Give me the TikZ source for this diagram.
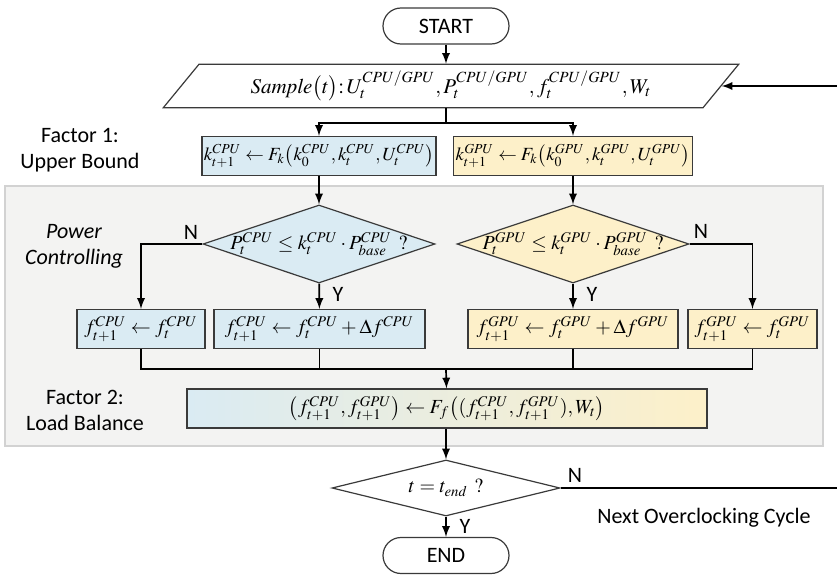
\documentclass[tikz,border=0pt]{standalone}
\usepackage{mathptmx}
\usepackage{fontspec}
\newfontfamily\labelfont{Carlito}
\usetikzlibrary{shapes.geometric}
\definecolor{cpublue}{HTML}{DAEBF3}
\definecolor{gpuyellow}{HTML}{FDF0C9}
\definecolor{boxline}{HTML}{3A3A3A}
\definecolor{panelgray}{HTML}{F3F3F2}
\definecolor{panelline}{HTML}{D2D2D2}

\begin{document}
\begin{tikzpicture}[x=0.5pt, y=-0.5pt, >=latex,
  line/.style={draw=black, line width=0.85pt},
  flow/.style={line, ->},
  terminal/.style={draw=boxline, line width=0.6pt, rounded corners=9pt,
    minimum width=63pt, minimum height=18pt, font=\labelfont\fontsize{11}{13}\selectfont},
  mathbox/.style={draw=boxline, line width=0.6pt, minimum height=19.5pt, inner sep=1pt,
    font=\fontsize{10}{12}\selectfont},
  cpubox/.style={mathbox, fill=cpublue},
  gpubox/.style={mathbox, fill=gpuyellow},
  decision/.style={diamond, draw=boxline, line width=0.6pt, inner sep=0pt,
    minimum width=116pt, minimum height=39pt, font=\fontsize{10}{12}\selectfont},
  sidetext/.style={font=\labelfont\fontsize{11}{13}\selectfont, align=center},
  yn/.style={font=\labelfont\fontsize{11}{13}\selectfont, inner sep=1pt}
]
  \useasboundingbox (0,0) rectangle (837,578);
  % Grey panel behind the power controlling part
  \draw[fill=panelgray, draw=panelline, line width=0.8pt] (5,186) rectangle (823,446);

  % Main column
  \node[terminal] (start) at (446,26) {START};
  \node[trapezium, trapezium left angle=56, trapezium right angle=124, trapezium stretches=true,
    draw=boxline, line width=0.6pt, minimum width=288pt, minimum height=20pt,
    font=\fontsize{10.5}{12}\selectfont] (sample) at (451,86)
    {$\mathit{Sample}\bigl(t\bigr)\colon U_t^{CPU/GPU}, P_t^{CPU/GPU}, f_t^{CPU/GPU}, W_t$};

  % Factor 1
  \node[cpubox, minimum width=116pt, font=\fontsize{9.3}{11}\selectfont] (kcpu) at (319,156)
    {$k_{t+1}^{CPU} \leftarrow F_k\bigl(k_0^{CPU}, k_t^{CPU}, U_t^{CPU}\bigr)$};
  \node[gpubox, minimum width=117pt, font=\fontsize{9.3}{11}\selectfont] (kgpu) at (573,156)
    {$k_{t+1}^{GPU} \leftarrow F_k\bigl(k_0^{GPU}, k_t^{GPU}, U_t^{GPU}\bigr)$};
  \node[sidetext] (factorone) at (80,150) {Factor 1:\\Upper Bound};

  % Power controlling
  \node[decision, fill=cpublue] (pcpu) at (319,244)
    {\makebox[0pt]{$P_t^{CPU} \le k_t^{CPU} \cdot P_{base}^{CPU}\ ?$}};
  \node[decision, fill=gpuyellow] (pgpu) at (573,244)
    {\makebox[0pt]{$P_t^{GPU} \le k_t^{GPU} \cdot P_{base}^{GPU}\ ?$}};
  \node[sidetext, font=\labelfont\itshape\fontsize{11}{13}\selectfont] (powerctl) at (74,246)
    {Power\\Controlling};

  \node[cpubox, minimum width=64pt] (fcpun) at (141,329)
    {$f_{t+1}^{CPU} \leftarrow f_t^{CPU}$};
  \node[cpubox, minimum width=105.5pt] (fcpuy) at (319.5,329)
    {$f_{t+1}^{CPU} \leftarrow f_t^{CPU} + \Delta f^{CPU}$};
  \node[gpubox, minimum width=105pt] (fgpuy) at (573,329)
    {$f_{t+1}^{GPU} \leftarrow f_t^{GPU} + \Delta f^{GPU}$};
  \node[gpubox, minimum width=64.5pt] (fgpun) at (752.5,329)
    {$f_{t+1}^{GPU} \leftarrow f_t^{GPU}$};

  \node[yn] (ncpu) at (191,232) {N};
  \node[yn] (ycpu) at (338,294) {Y};
  \node[yn] (ngpu) at (701,231) {N};
  \node[yn] (ygpu) at (592,294) {Y};

  % Factor 2
  \node[mathbox, left color=cpublue, right color=gpuyellow, minimum width=260pt] (balance) at (447,408.5)
    {$\bigl(f_{t+1}^{CPU}, f_{t+1}^{GPU}\bigr) \leftarrow F_f\bigl((f_{t+1}^{CPU}, f_{t+1}^{GPU}), W_t\bigr)$};
  \node[sidetext] (factortwo) at (85,410) {Factor 2:\\Load Balance};

  % End check
  \node[decision, minimum width=114pt, minimum height=28pt] (check) at (446,488)
    {\makebox[0pt]{$t = t_{end}\ ?$}};
  \node[terminal] (stop) at (446,555.5) {END};
  \node[yn] (ncheck) at (575,475) {N};
  \node[yn] (ycheck) at (465,526) {Y};
  \node[sidetext] (nextcycle) at (704,518) {Next Overclocking Cycle};

  \coordinate (ksplit) at (446,123);
  \coordinate (fbus) at (446,369);
  \coordinate (loopout) at (837,488);
  \coordinate (loopin) at (837,86);

  % Connectors
  \draw[flow] (start) -- (start |- sample.north);
  \draw[line] (start |- sample.south) -- (ksplit);
  \draw[flow] (ksplit) -| (kcpu);
  \draw[flow] (ksplit) -| (kgpu);
  \draw[flow] (kcpu) -- (pcpu);
  \draw[flow] (kgpu) -- (pgpu);
  \draw[flow] (pcpu.west) -| (fcpun);
  \draw[flow] (pcpu) -- (fcpuy);
  \draw[flow] (pgpu.east) -| (fgpun);
  \draw[flow] (pgpu) -- (fgpuy);
  \draw[line] (fcpun.south) |- (fbus) -| (fgpun.south);
  \foreach \n in {fcpuy, fgpuy}
    \draw[line] (\n.south) -- (\n.south |- fbus);
  \draw[flow] (fbus) -- (balance);
  \draw[flow] (balance.south -| check) -- (check);
  \draw[line] (check.east) -- (loopout);
  \draw[flow] (loopin) -- (sample.east);
  \draw[flow] (check) -- (stop);
\end{tikzpicture}
\end{document}
